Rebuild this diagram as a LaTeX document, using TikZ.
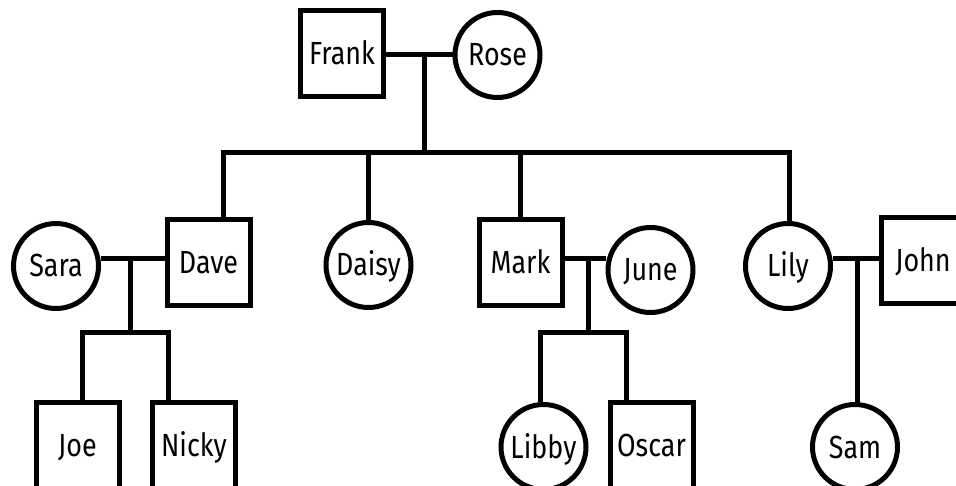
\documentclass[tikz,border=0pt]{standalone}
\usepackage{fontspec}
\setmainfont[FakeStretch=0.84]{Fira Sans}
\tikzset{
  person/.style={draw, line width=5pt, inner sep=0pt, font=\fontsize{32}{32}\selectfont, text height=22pt, text depth=0pt},
  male/.style={person, rectangle, minimum width=83pt, minimum height=86pt},
  female/.style={person, circle, minimum size=85pt},
  ln/.style={draw, line width=5pt, line join=miter}
}
\begin{document}
\begin{tikzpicture}[x=1pt, y=-1pt]
\path[use as bounding box, clip] (0,0) rectangle (956,486);
\fill[white] (0,0) rectangle (956,486);
% generation 1
\node[male]   (Frank) at (342,54)    {Frank};
\node[female] (Rose)  at (497.5,55)  {Rose};
% generation 2
\node[female] (Sara)  at (56,266)    {Sara};
\node[male]   (Dave)  at (208.5,262.5) {Dave};
\node[female] (Daisy) at (368.5,265) {Daisy};
\node[male]   (Mark)  at (520.5,263) {Mark};
\node[female] (June)  at (650.5,270) {June};
\node[female] (Lily)  at (788,266)   {Lily};
\node[male]   (John)  at (923,260.5) {John};
% generation 3
\node[male]   (Joe)   at (77.5,445.5) {Joe};
\node[male]   (Nicky) at (194,445)   {Nicky};
\node[female] (Libby) at (543.5,447) {Libby};
\node[male]   (Oscar) at (651.5,445.5) {Oscar};
\node[female] (Sam)   at (855,447)   {Sam};
% couple points
\coordinate (m1) at (424,55);
\coordinate (m2) at (130,259);
\coordinate (m3) at (588,259);
\coordinate (m4) at (857,259);
% sibling bar points
\coordinate (b1) at (424,153);
\coordinate (dv) at (223,153);
\coordinate (ds) at (368.5,153);
\coordinate (mk) at (520,153);
\coordinate (ll) at (789,153);
\coordinate (b2) at (130,333);
\coordinate (jo) at (82,333);
\coordinate (nk) at (168,333);
\coordinate (b3) at (588,333);
\coordinate (lb) at (540,333);
\coordinate (os) at (626,333);
% couple lines
\draw[ln] (Frank.east |- m1) -- (Rose.west |- m1);
\draw[ln] (Sara.east |- m2) -- (Dave.west |- m2);
\draw[ln] (Mark.east |- m3) -- (June.west |- m3);
\draw[ln] (Lily.east |- m4) -- (John.west |- m4);
% Frank + Rose children
\draw[ln] (m1) -- (b1);
\draw[ln] (dv |- Dave.north) -- (dv) -- (ll) -- (ll |- Lily.north);
\draw[ln] (ds) -- (Daisy.north);
\draw[ln] (mk) -- (mk |- Mark.north);
% Sara + Dave children
\draw[ln] (m2) -- (b2);
\draw[ln] (jo |- Joe.north) -- (jo) -- (nk) -- (nk |- Nicky.north);
% Mark + June children
\draw[ln] (m3) -- (b3);
\draw[ln] (lb |- Libby.north) -- (lb) -- (os) -- (os |- Oscar.north);
% Lily + John child
\draw[ln] (m4) -- (m4 |- Sam.north);
\end{tikzpicture}
\end{document}
